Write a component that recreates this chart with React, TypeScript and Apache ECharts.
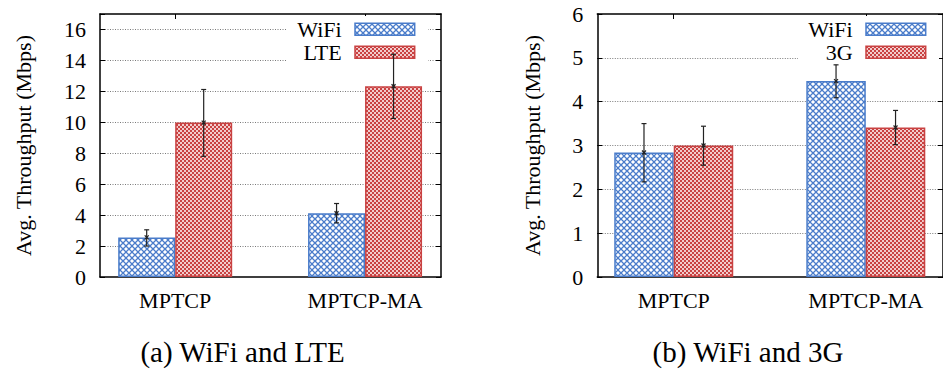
import React, { useEffect, useRef } from 'react';
import * as echarts from 'echarts';

// ---- data ----
const categories = ['MPTCP', 'MPTCP-MA'];

const lteWifi = [2.56, 4.12];
const lteWifiLow = [2.0, 3.5];
const lteWifiHigh = [3.05, 4.75];
const lteLte = [9.98, 12.33];
const lteLteLow = [7.8, 10.25];
const lteLteHigh = [12.12, 14.4];

const g3Wifi = [2.84, 4.47];
const g3WifiLow = [2.17, 4.09];
const g3WifiHigh = [3.5, 4.84];
const g3G3 = [3.0, 3.41];
const g3G3Low = [2.55, 3.02];
const g3G3High = [3.44, 3.8];

const yTitle = 'Avg. Throughput (Mbps)';
const captionA = '(a) WiFi and LTE';
const captionB = '(b) WiFi and 3G';

const FONT = 'Liberation Serif';
const BLUE = '#4a7cca';
const RED = '#c94242';

function makeHatch(): HTMLCanvasElement {
  const c = document.createElement('canvas');
  c.width = 6;
  c.height = 6;
  const g = c.getContext('2d')!;
  g.fillStyle = '#ffffff';
  g.fillRect(0, 0, 6, 6);
  g.strokeStyle = BLUE;
  g.lineWidth = 1.3;
  g.beginPath();
  g.moveTo(-1, -1);
  g.lineTo(7, 7);
  g.moveTo(7, -1);
  g.lineTo(-1, 7);
  g.stroke();
  return c;
}

function makeChecker(): HTMLCanvasElement {
  const c = document.createElement('canvas');
  c.width = 4;
  c.height = 4;
  const g = c.getContext('2d')!;
  g.fillStyle = '#f2cccc';
  g.fillRect(0, 0, 4, 4);
  g.fillStyle = RED;
  g.fillRect(0, 0, 2, 2);
  g.fillRect(2, 2, 2, 2);
  return c;
}

export default function App() {
  const ref = useRef<HTMLDivElement>(null);

  useEffect(() => {
    if (!ref.current) return;
    const chart = echarts.init(ref.current, undefined, { renderer: 'svg' });

    const hatchCanvas = makeHatch();
    const checkCanvas = makeChecker();
    const hatch: any = { image: hatchCanvas, repeat: 'repeat', imageWidth: 6, imageHeight: 6 };
    const check: any = { image: checkCanvas, repeat: 'repeat', imageWidth: 4, imageHeight: 4 };

    const grids = [
      { left: 100, top: 14, width: 341, height: 263 },
      { left: 597.3, top: 14, width: 355.9, height: 263 },
    ];
    const xRanges = [
      [-0.396, 1.4],
      [-0.398, 1.402],
    ];
    const yMax = [17, 6];
    const yLabelMax = [16, 6];
    const yInterval = [2, 1];
    const barW = [57, 59.5];
    const nameGaps = [66, 54];

    const xAxes: any[] = [];
    const yAxes: any[] = [];
    for (let i = 0; i < 2; i++) {
      xAxes.push({
        type: 'value',
        gridIndex: i,
        position: 'bottom',
        min: xRanges[i][0],
        max: xRanges[i][1],
        axisLine: { show: true, onZero: false, lineStyle: { color: '#000', width: 1.5 } },
        axisTick: { show: false },
        splitLine: { show: false },
        axisLabel: {
          customValues: [0, 1],
          formatter: (v: number) => categories[Math.round(v)] ?? '',
          fontFamily: FONT,
          fontSize: 22,
          color: '#000',
          margin: 12,
        },
      });
      xAxes.push({
        type: 'value',
        gridIndex: i,
        position: 'top',
        min: xRanges[i][0],
        max: xRanges[i][1],
        axisLine: { show: true, onZero: false, lineStyle: { color: '#000', width: 1.5 } },
        axisTick: { show: true, inside: true, length: 5, customValues: [0, 1], lineStyle: { color: '#000' } },
        axisLabel: { show: false },
        splitLine: { show: false },
      });
      const ym = yMax[i];
      const lm = yLabelMax[i];
      yAxes.push({
        type: 'value',
        gridIndex: i,
        position: 'left',
        min: 0,
        max: ym,
        interval: yInterval[i],
        name: yTitle,
        nameLocation: 'middle',
        nameGap: nameGaps[i],
        nameRotate: 90,
        nameTextStyle: { fontFamily: FONT, fontSize: 22, color: '#000' },
        axisLine: { show: true, onZero: false, lineStyle: { color: '#000', width: 1.5 } },
        axisTick: { show: true, inside: true, length: 5, lineStyle: { color: '#000' } },
        axisLabel: {
          fontFamily: FONT,
          fontSize: 22,
          color: '#000',
          margin: 14,
          formatter: (v: number) => (v > lm ? '' : String(v)),
        },
        splitLine: {
          show: true,
          showMinLine: false,
          showMaxLine: false,
          lineStyle: { color: '#7a7a7a', type: [1, 1.5], width: 1 },
        },
      });
      yAxes.push({
        type: 'value',
        gridIndex: i,
        position: 'right',
        min: 0,
        max: ym,
        interval: yInterval[i],
        axisLine: { show: true, onZero: false, lineStyle: { color: '#000', width: 1.5 } },
        axisTick: { show: true, inside: true, length: 5, lineStyle: { color: '#000' } },
        axisLabel: { show: false },
        splitLine: { show: false },
      });
    }

    const barSeries = (name: string, i: number, vals: number[], fill: any, color: string) => ({
      type: 'bar',
      name,
      xAxisIndex: i * 2,
      yAxisIndex: i * 2,
      barWidth: barW[i],
      barGap: '0%',
      z: 2,
      data: vals.map((v, k) => [k, v]),
      itemStyle: { color: fill, borderColor: color, borderWidth: 1.5 },
    });

    const errSeries = (i: number, side: number, mean: number[], lo: number[], hi: number[]) => ({
      type: 'custom',
      xAxisIndex: i * 2,
      yAxisIndex: i * 2,
      z: 10,
      data: mean.map((m, k) => [k, lo[k], hi[k], m]),
      renderItem: (_p: any, api: any) => {
        const x = api.value(0);
        const pLo = api.coord([x, api.value(1)]);
        const pHi = api.coord([x, api.value(2)]);
        const pM = api.coord([x, api.value(3)]);
        const cx = pLo[0] + (side * barW[i]) / 2;
        const st = { stroke: '#222', lineWidth: 1.2 };
        const cap = 2.5;
        const mk = 2;
        return {
          type: 'group',
          children: [
            { type: 'line', shape: { x1: cx, y1: pLo[1], x2: cx, y2: pHi[1] }, style: st },
            { type: 'line', shape: { x1: cx - cap, y1: pLo[1], x2: cx + cap, y2: pLo[1] }, style: st },
            { type: 'line', shape: { x1: cx - cap, y1: pHi[1], x2: cx + cap, y2: pHi[1] }, style: st },
            { type: 'line', shape: { x1: cx - mk, y1: pM[1] - mk, x2: cx + mk, y2: pM[1] + mk }, style: st },
            { type: 'line', shape: { x1: cx - mk, y1: pM[1] + mk, x2: cx + mk, y2: pM[1] - mk }, style: st },
          ],
        };
      },
    });

    const legend = (textRight: number, names: string[], boxL: number, boxR: number) => {
      const out: any[] = [
        { type: 'rect', z: 3, shape: { x: boxL, y: 16, width: boxR - boxL, height: 50 }, style: { fill: '#fff' } },
      ];
      const fills = [hatch, check];
      const cols = [BLUE, RED];
      const ys = [29.3, 52.3];
      names.forEach((n, k) => {
        out.push({
          type: 'text',
          z: 4,
          style: {
            text: n,
            x: textRight,
            y: ys[k],
            textAlign: 'right',
            textVerticalAlign: 'middle',
            fontFamily: FONT,
            fontSize: 22,
            fill: '#000',
          },
        });
        out.push({
          type: 'rect',
          z: 4,
          shape: { x: textRight + 13.3, y: ys[k] - 6, width: 59.7, height: 12 },
          style: { fill: fills[k], stroke: cols[k], lineWidth: 1.5 },
        });
      });
      return out;
    };

    const caption = (text: string, x: number) => ({
      type: 'text',
      z: 4,
      style: {
        text,
        x,
        y: 352,
        textAlign: 'center',
        textVerticalAlign: 'middle',
        fontFamily: FONT,
        fontSize: 29,
        fill: '#000',
      },
    });

    chart.setOption({
      animation: false,
      backgroundColor: '#fff',
      textStyle: { fontFamily: FONT },
      grid: grids,
      xAxis: xAxes,
      yAxis: yAxes,
      series: [
        barSeries('WiFi', 0, lteWifi, hatch, BLUE),
        barSeries('LTE', 0, lteLte, check, RED),
        barSeries('WiFi', 1, g3Wifi, hatch, BLUE),
        barSeries('3G', 1, g3G3, check, RED),
        errSeries(0, -1, lteWifi, lteWifiLow, lteWifiHigh),
        errSeries(0, 1, lteLte, lteLteLow, lteLteHigh),
        errSeries(1, -1, g3Wifi, g3WifiLow, g3WifiHigh),
        errSeries(1, 1, g3G3, g3G3Low, g3G3High),
      ],
      graphic: [
        ...legend(341.7, ['WiFi', 'LTE'], 287, 428),
        ...legend(852.7, ['WiFi', '3G'], 798, 939),
        caption(captionA, 242.5),
        caption(captionB, 748),
      ],
    });

    return () => chart.dispose();
  }, []);

  return (
    <div
      ref={ref}
      style={{ position: 'absolute', left: 0, top: 0, width: 943, height: 371, background: '#fff' }}
    />
  );
}
